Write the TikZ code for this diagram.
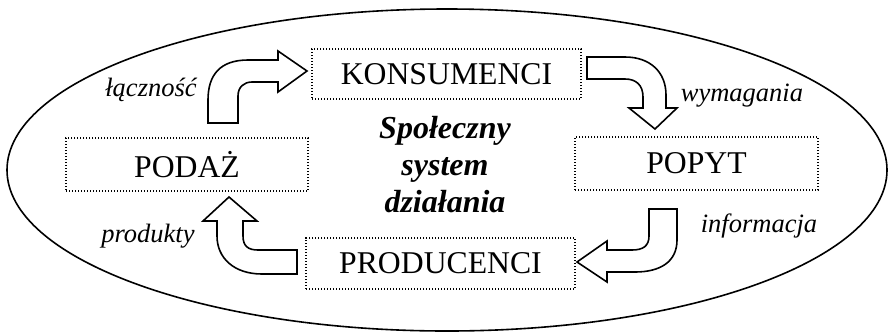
\documentclass[tikz,border=0pt]{standalone}
\usepackage{fontspec}
\setmainfont{Liberation Serif}

\begin{document}
\begin{tikzpicture}[x=1pt, y=-1pt, line width=1.6pt,
    box/.style={draw, line width=1.4pt, dash pattern=on 1.4pt off 1.6pt,
      inner sep=0pt, font=\fontsize{31.7}{34}\selectfont},
    lbl/.style={font=\fontsize{26.5}{30}\selectfont\itshape},
    bent/.style={draw, fill=white, line width=1.6pt, line join=miter}]
  \useasboundingbox (0,0) rectangle (888,333);
  \draw (447,170) ellipse [x radius=440, y radius=161];

  \node[box, minimum width=269pt, minimum height=50pt] (konsumenci) at (446.5,74) {KONSUMENCI};
  \node[box, minimum width=242pt, minimum height=53pt] (podaz) at (187,164.5) {PODAŻ};
  \node[box, minimum width=243pt, minimum height=53pt] (popyt) at (696.5,163.5) {POPYT};
  \node[box, minimum width=269pt, minimum height=51pt] (producenci) at (440.5,263.5) {PRODUCENCI};

  \node[align=center, font=\fontsize{32}{37}\selectfont\bfseries\itshape] (system) at (445,165)
    {Społeczny\\system\\działania};

  % podaz -> konsumenci
  \draw[bent] (208,123) -- (208,100) .. controls (208,75) and (220,60) .. (248,60)
    -- (278,60) -- (278,51) -- (307,71) -- (278,92) -- (278,82) -- (252,82)
    .. controls (244,82) and (238,87) .. (238,96) -- (238,123) -- cycle;
  % konsumenci -> popyt
  \draw[bent] (587,57) -- (625,57) .. controls (650,57) and (666,72) .. (666,95)
    -- (666,108) -- (677,108) -- (655,129) -- (629,108) -- (643,108) -- (643,97)
    .. controls (643,85) and (636,79) .. (625,79) -- (587,79) -- cycle;
  % popyt -> producenci
  \draw[bent] (649,209) -- (677,209) -- (677,240) .. controls (677,262) and (660,272) .. (635,272)
    -- (607,272) -- (607,282) -- (577,262) -- (607,241) -- (607,250) -- (632,250)
    .. controls (643,250) and (649,246) .. (649,236) -- cycle;
  % producenci -> podaz
  \draw[bent] (297,250) -- (297,274) -- (262,274) .. controls (234,274) and (217,258) .. (217,236)
    -- (217,221) -- (203,221) -- (229,197) -- (257,221) -- (243,221) -- (243,236)
    .. controls (243,246) and (248,250) .. (258,250) -- cycle;

  \node[lbl] (lacznosc) at (151,90) {łączność};
  \node[lbl] (wymagania) at (742,96) {wymagania};
  \node[lbl] (informacja) at (759,226) {informacja};
  \node[lbl] (produkty) at (148,236) {produkty};
\end{tikzpicture}
\end{document}
